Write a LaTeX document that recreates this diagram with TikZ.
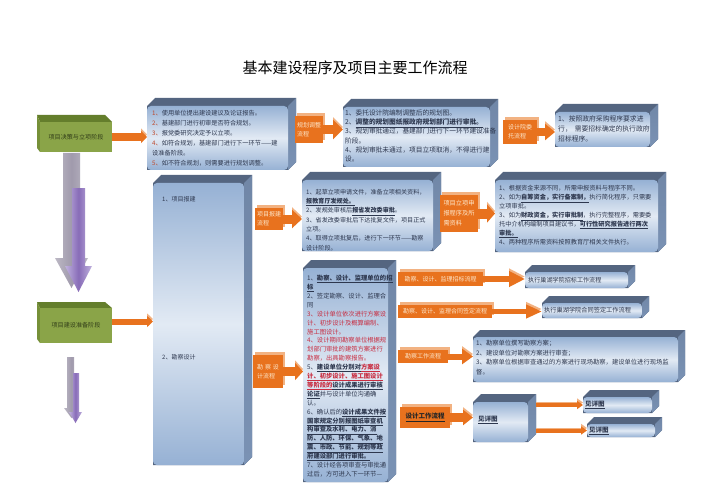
\documentclass[tikz,border=0pt]{standalone}
\usepackage{fontspec}
\setmainfont{Noto Sans CJK SC}[AutoFakeSlant=0.2]
\usetikzlibrary{arrows.meta,calc,shadows}
\definecolor{boxblue}{RGB}{150,177,212}
\definecolor{boxlight}{RGB}{226,234,244}
\definecolor{boxtop}{RGB}{84,101,128}
\definecolor{boxside}{RGB}{122,146,180}
\definecolor{orangec}{RGB}{232,114,30}
\definecolor{orangesh}{RGB}{242,178,130}
\definecolor{orangetxt}{RGB}{253,232,205}
\definecolor{greenf}{RGB}{138,164,72}
\definecolor{greent}{RGB}{100,126,44}
\definecolor{greens}{RGB}{118,144,56}
\definecolor{greentxt}{RGB}{50,62,25}
\definecolor{txtc}{RGB}{45,55,78}
\definecolor{redc}{RGB}{200,45,65}
\definecolor{numc}{RGB}{190,70,40}
\definecolor{purpm}{RGB}{136,108,184}
\definecolor{purpl}{RGB}{192,178,222}
\definecolor{grayarr}{RGB}{160,154,172}
\pgfdeclarelayer{bg}
\pgfsetlayers{bg,main}
\newcommand\mkcube[2]{%
\begin{pgfonlayer}{bg}
\fill[boxtop] (#1.south west) -- (#1.north west) -- ++(#2pt,#2pt) -- ($(#1.north east)+(#2pt,#2pt)$) -- ($(#1.south east)+(#2pt,#2pt)$) -- (#1.south east) -- cycle;
\shade[top color=boxside!75!boxtop, bottom color=boxside] (#1.north east) -- ($(#1.north east)+(#2pt,#2pt)$) -- ($(#1.south east)+(#2pt,#2pt)$) -- (#1.south east) -- cycle;
\end{pgfonlayer}}
\tikzset{
 bluefront/.style={rectangle, rounded corners=4pt, top color=boxblue, bottom color=boxblue, middle color=boxlight, draw=none, inner sep=0pt, outer sep=0pt, anchor=north west},
 txt/.style={anchor=north west, align=left, inner sep=0pt, text=txtc},
 gfront/.style={rectangle, fill=greenf, inner sep=0pt, outer sep=0pt, anchor=north west, text=greentxt, font=\fontsize{6.1}{7}\selectfont},
 obox/.style={rectangle, fill=orangec, inner sep=0pt, outer sep=0pt, anchor=north west, text=orangetxt, align=left, font=\fontsize{6}{9}\selectfont, general shadow={fill=orangesh, draw=none, shadow xshift=1.5pt, shadow yshift=3pt}},
 oarr/.style n args={3}{draw=orangec, line width=#1pt, -{Triangle[width=#2pt,length=#3pt]}, general shadow={draw=orangesh, shadow yshift=2.5pt}},
}
\begin{document}
\begin{tikzpicture}[x=1pt,y=-1pt]
\begin{pgfonlayer}{bg}
\fill[white] (0,0) rectangle (707,500);
\end{pgfonlayer}
\path[use as bounding box] (0,0) rectangle (707,500);

\node[font=\fontsize{15}{15}\selectfont] (title) at (355,68) {基本建设程序及项目主要工作流程};

% green boxes
\fill[greent] (37,115) -- (105,115) -- (112,122) -- (40,122) -- cycle;
\fill[greens] (37,115) -- (40,122) -- (40,152) -- (37,148) -- cycle;
\node[gfront, minimum width=72pt, minimum height=30pt] (g1) at (40,122) {项目决策与立项阶段};
\fill[greent] (37,302) -- (105,302) -- (112,308) -- (40,308) -- cycle;
\fill[greens] (37,302) -- (40,308) -- (40,343) -- (37,339) -- cycle;
\node[gfront, minimum width=72pt, minimum height=35pt] (g2) at (40,308) {项目建设准备阶段};

% purple arrows
\shade[left color=grayarr!70!white, right color=grayarr!70!white, middle color=grayarr] (63,153) -- (80,153) -- (80,258) -- (88,258) -- (71.5,288) -- (55,258) -- (63,258) -- cycle;
\shade[left color=purpl, right color=purpl, middle color=purpm] (72,188) -- (85,188) -- (85,266) -- (92,266) -- (78.5,292) -- (65,266) -- (72,266) -- cycle;
\shade[left color=grayarr!70!white, right color=grayarr!70!white, middle color=grayarr] (67,357) -- (74,357) -- (74,408) -- (79,408) -- (71.5,418) -- (64,408) -- (67,408) -- cycle;
\shade[left color=purpl, right color=purpl, middle color=purpm] (73,373) -- (79,373) -- (79,412) -- (82,412) -- (75.5,423) -- (69,412) -- (73,412) -- cycle;

% blue boxes
\node[bluefront, minimum width=141pt, minimum height=64pt] (b1) at (147,106) {};
\mkcube{b1}{8}
\node[txt, font=\fontsize{6.2}{10}\selectfont] (b1t) at (152,110) {%
{\color{numc}1、}使用单位提出建设建议及论证报告。\\
{\color{numc}2、}基建部门进行初审是否符合规划。\\
{\color{numc}3、}报党委研究决定予以立项。\\
{\color{numc}4、}如符合规划，基建部门进行下一环节——建\\
设准备阶段。\\
{\color{numc}5、}如不符合规划，则需要进行规划调整。};

\node[bluefront, minimum width=147pt, minimum height=60pt] (b2) at (343,107) {};
\mkcube{b2}{8}
\node[txt, font=\fontsize{6.7}{9.2}\selectfont] (b2t) at (345,109.6) {%
1、委托设计院编制调整后的规划图。\\
2、\textbf{\underline{调整的规划图纸报政府规划部门进行审批。}}\\
3、规划审批通过，基建部门进行下一环节建设准备\\
阶段。\\
4、规划审批未通过，项目立项取消，不得进行建\\
设。};

\node[bluefront, minimum width=95pt, minimum height=35pt] (b3) at (555,112) {};
\mkcube{b3}{8}
\node[txt, font=\fontsize{6.8}{10}\selectfont] (b3t) at (558,115.2) {%
1、按照政府采购程序要求进\\
行，\hspace{3pt}需要招标确定的执行政府\\
招标程序。};

\node[bluefront, minimum width=91pt, minimum height=282pt] (t) at (153,183) {};
\mkcube{t}{8}
\node[txt, font=\fontsize{6}{8}\selectfont, anchor=west] (t1) at (162,199) {1、项目报建};
\node[txt, font=\fontsize{6}{8}\selectfont, anchor=west] (t2) at (162,357) {2、勘察设计};

\node[bluefront, minimum width=131pt, minimum height=71pt] (b4) at (302,180) {};
\mkcube{b4}{8}
\node[txt, font=\fontsize{6.1}{9.3}\selectfont] (b4t) at (306,188.9) {%
1、起草立项申请文件，准备立项相关资料，\\
\textbf{\underline{报教育厅发规处。}}\\
2、发规处审核后\textbf{\underline{报省发改委审批}}。\\
3、省发改委审批后下达批复文件，项目正式\\
立项。\\
4、取得立项批复后，进行下一环节——勘察\\
设计阶段。};

\node[bluefront, minimum width=163pt, minimum height=72pt] (b5) at (495,180) {};
\mkcube{b5}{8}
\node[txt, font=\fontsize{6.2}{9}\selectfont] (b5t) at (499,184.9) {%
1、根据资金来源不同，所需申报资料与程序不同。\\
2、如为\textbf{\underline{自筹资金，实行备案制，}}执行简化程序，只需要\\
立项审批。\\
3、如为\textbf{\underline{财政资金，实行审批制}}，执行完整程序，需要委\\
托中介机构编制项目建议书，\textbf{\underline{可行性研究报告进行两次}}\\
\textbf{\underline{审批。}}\\
4、两种程序所需资料按照教育厅相关文件执行。};

\node[bluefront, minimum width=85pt, minimum height=214pt] (b6) at (303,268) {};
\mkcube{b6}{8}
\node[txt, font=\fontsize{6.3}{8.9}\selectfont] (b6t) at (307,274.9) {%
1、\textbf{\underline{勘察、设计、监理单位的招}}\\
\textbf{\underline{标}}\\
2、签定勘察、设计、监理合\\
同\\
{\color{redc}3、设计单位依次进行方案设}\\
{\color{redc}计、初步设计及概算编制、}\\
{\color{redc}施工图设计。}\\
{\color{redc}4、设计期间勘察单位根据规}\\
{\color{redc}划部门审批的建筑方案进行}\\
{\color{redc}勘察，出具勘察报告。}\\
5、\textbf{\underline{建设单位分别对}{\color{redc}\underline{方案设}}}\\
\textbf{{\color{redc}\underline{计、初步设计、施工图设计}}}\\
\textbf{{\color{redc}\underline{等阶段的}}\underline{设计成果进行审核}}\\
\textbf{\underline{论证}}并与设计单位沟通确\\
认。\\
6、确认后的\textbf{\underline{设计成果文件按}}\\
\textbf{\underline{国家规定分别报图纸审查机}}\\
\textbf{\underline{构审查及水利、电力、消}}\\
\textbf{\underline{防、人防、环保、气象、地}}\\
\textbf{\underline{震、市政、节能、规划等政}}\\
\textbf{\underline{府建设部门进行审批。}}\\
7、设计经各项审查与审批通\\
过后，方可进入下一环节—};

\node[bluefront, minimum width=103pt, minimum height=16pt] (e1) at (525,272) {};
\mkcube{e1}{7}
\node[txt, anchor=west, font=\fontsize{6.1}{8}\selectfont] (e1t) at (528,280) {执行巢湖学院招标工作流程};
\node[bluefront, minimum width=100pt, minimum height=15pt] (e2) at (542,303) {};
\mkcube{e2}{7}
\node[txt, anchor=west, font=\fontsize{6.2}{8}\selectfont] (e2t) at (544,310.5) {执行巢湖学院合同签定工作流程};
\node[bluefront, minimum width=205pt, minimum height=45pt] (e3) at (473,337) {};
\mkcube{e3}{7}
\node[txt, font=\fontsize{6.3}{9.6}\selectfont] (e3t) at (476,339.9) {%
1、勘察单位撰写勘察方案；\\
2、建设单位对勘察方案进行审查；\\
3、勘察单位根据审查通过的方案进行现场勘察，建设单位进行现场监\\
督。};

\node[bluefront, minimum width=55pt, minimum height=40pt] (d1) at (473,402) {};
\mkcube{d1}{8}
\node[txt, anchor=west, font=\fontsize{6.5}{8}\selectfont] (d1t) at (478,420) {\textbf{\textit{\underline{见详图}}}};
\node[bluefront, minimum width=69pt, minimum height=16pt] (d2) at (583,397) {};
\mkcube{d2}{7}
\node[txt, anchor=west, font=\fontsize{6.5}{8}\selectfont] (d2t) at (585,405) {\textbf{\textit{\underline{见详图}}}};
\node[bluefront, minimum width=68pt, minimum height=13pt] (d3) at (587,424) {};
\mkcube{d3}{7}
\node[txt, anchor=west, font=\fontsize{6.5}{8}\selectfont] (d3t) at (589,431) {\textbf{\textit{\underline{见详图}}}};

% orange label boxes
\node[obox, minimum width=28pt, minimum height=27pt] (o1) at (295,116) {规划调整\\流程};
\node[obox, minimum width=34pt, minimum height=24pt] (o2) at (503,120) {设计院委\\托流程};
\node[obox, minimum width=28pt, minimum height=22pt] (o3) at (255,208) {项目报建\\流程};
\node[obox, minimum width=38pt, minimum height=37pt, font=\fontsize{6.2}{10}\selectfont] (o4) at (440,195) {项目立项申\\报程序及所\\需资料};
\node[obox, minimum width=30pt, minimum height=33pt] (o5) at (253,355) {勘\hspace{2pt}察\hspace{2pt}设\\计流程};
\node[obox, minimum width=85pt, minimum height=14pt] (o6) at (398,272) {勘察、设计、监理招标流程};
\node[obox, minimum width=94pt, minimum height=13pt] (o7) at (398,305) {勘察、设计、监理合同签定流程};
\node[obox, minimum width=50pt, minimum height=13pt] (o8) at (398,350) {勘察工作流程};
\node[obox, minimum width=50pt, minimum height=21pt, text=black!85, font=\fontsize{6.5}{9}\selectfont] (o9) at (400,407) {\textbf{\textit{\underline{设计工作流程}}}};

% orange connectors
\draw[oarr={8}{12}{6}] (g1.east) -- (g1.east -| b1.west);
\draw[oarr={6}{11}{6}] ([yshift=4pt]g2.east) -- ([yshift=4pt]g2.east -| t.west);
\draw[oarr={9}{19}{10}] (o1.east) -- (o1.east -| b2.west);
\draw[oarr={8}{16}{10}] (o2.east) -- (o2.east -| b3.west);
\draw[oarr={9}{18}{10}] (o3.east) -- (o3.east -| b4.west);
\draw[oarr={10}{18}{8}] (o4.east) -- (o4.east -| b5.west);
\draw[oarr={9}{17}{8}] (o5.east) -- (o5.east -| b6.west);
\draw[oarr={6}{15}{16}] (o6.east) -- (o6.east -| e1.west);
\draw[oarr={5}{13}{16}] (o7.east) -- (o7.east -| e2.west);
\draw[oarr={6}{15}{11}] (o8.east) -- (o8.east -| e3.west);
\draw[oarr={9}{15}{10}] (o9.east) -- (o9.east -| d1.west);
\draw[oarr={4}{8}{6}] ($(d1.east |- d2.west)+(8pt,0pt)$) -- (d2.west);
\draw[oarr={4}{8}{6}] ($(d1.east |- d3.west)+(8pt,0pt)$) -- (d3.west);
\end{tikzpicture}
\end{document}
